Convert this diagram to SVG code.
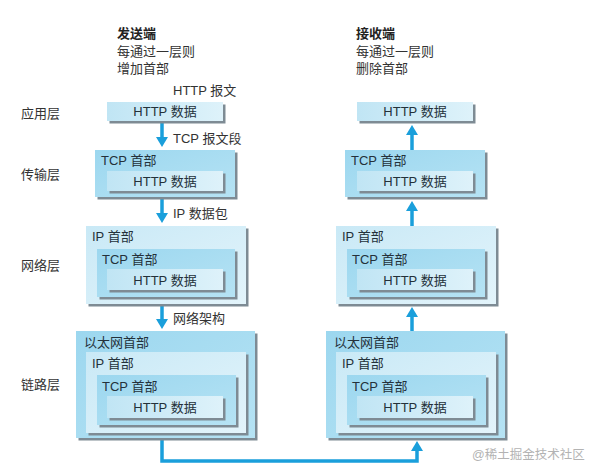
<svg xmlns="http://www.w3.org/2000/svg" width="597" height="475" viewBox="0 0 597 475">
<defs>
<linearGradient id="gMid" x1="0" y1="0" x2="1" y2="1"><stop offset="0" stop-color="#9cd7ef"/><stop offset="1" stop-color="#b6e3f4"/></linearGradient>
<linearGradient id="gLight" x1="0" y1="0" x2="1" y2="1"><stop offset="0" stop-color="#c9e9f6"/><stop offset="1" stop-color="#e3f4fb"/></linearGradient>
<linearGradient id="gHttp" x1="0" y1="0" x2="1" y2="0"><stop offset="0" stop-color="#c0e5f4"/><stop offset="1" stop-color="#def2fa"/></linearGradient>
<marker id="ah" markerUnits="userSpaceOnUse" markerWidth="12" markerHeight="12" refX="2" refY="6" orient="auto"><path d="M0,0 L10,6 L0,12 z" fill="#1a9fdb"/></marker>
</defs>
<style>
text{font-family:"Liberation Sans","Noto Sans CJK SC",sans-serif;font-size:13px;fill:#333}
.bx{fill:#24313a}
.mid .ho{font-weight:normal}
.sh{fill:#7e8b94}
.m{fill:url(#gMid)}
.l{fill:url(#gLight)}
.h{fill:url(#gHttp)}
.c{text-anchor:middle}
.hd{font-weight:bold;fill:#222}
.wm{fill:#b3b3b3;font-size:12.5px}
.con{stroke:#1a9fdb;stroke-width:3.5;fill:none}
</style>

<g id="header-left">
<text class="hd" x="117" y="38">发送端</text>
<text x="117" y="55.5">每通过一层则</text>
<text x="117" y="73">增加首部</text>
</g>
<g id="header-right">
<text class="hd" x="356" y="38">接收端</text>
<text x="356" y="55.5">每通过一层则</text>
<text x="356" y="73">删除首部</text>
</g>

<g id="layer-labels">
<text x="21" y="118">应用层</text>
<text x="21" y="179">传输层</text>
<text x="21" y="270">网络层</text>
<text x="21" y="389">链路层</text>
</g>

<g id="arrow-labels">
<text x="173" y="95">HTTP 报文</text>
<text x="173" y="143">TCP 报文段</text>
<text x="173" y="218">IP 数据包</text>
<text x="173" y="323">网络架构</text>
</g>

<g id="connectors">
<line class="con" x1="162" y1="122" x2="162" y2="139" marker-end="url(#ah)"/>
<line class="con" x1="162" y1="198" x2="162" y2="215" marker-end="url(#ah)"/>
<line class="con" x1="162" y1="305" x2="162" y2="321" marker-end="url(#ah)"/>
<line class="con" x1="412" y1="150" x2="412" y2="133" marker-end="url(#ah)"/>
<line class="con" x1="412" y1="226" x2="412" y2="209" marker-end="url(#ah)"/>
<line class="con" x1="412" y1="331" x2="412" y2="315" marker-end="url(#ah)"/>
<path class="con" d="M162,438 V461 H417 V449" marker-end="url(#ah)"/>
</g>

<g id="send-app">
<rect class="sh" x="109.5" y="104.5" width="116" height="19"/>
<rect class="h" x="107" y="102" width="116" height="19"/>
<text class="bx c" x="165" y="116">HTTP 数据</text>
</g>

<g id="send-tcp">
<rect class="sh" x="97.5" y="152.5" width="140" height="47"/>
<rect class="m" x="95" y="150" width="140" height="47"/>
<text class="bx" x="101" y="165">TCP 首部</text>
<rect class="sh" x="109.5" y="173.5" width="116" height="20"/>
<rect class="h" x="107" y="171" width="116" height="20"/>
<text class="bx c" x="165" y="186">HTTP 数据</text>
</g>

<g id="send-ip">
<rect class="sh" x="88.5" y="228.5" width="160" height="78"/>
<rect class="l" x="86" y="226" width="160" height="78"/>
<text class="bx" x="92" y="241">IP 首部</text>
<rect class="sh" x="99.5" y="251.5" width="138" height="48"/>
<rect class="m" x="97" y="249" width="138" height="48"/>
<text class="bx" x="102" y="264">TCP 首部</text>
<rect class="sh" x="109.5" y="271.5" width="116" height="21"/>
<rect class="h" x="107" y="269" width="116" height="21"/>
<text class="bx c" x="165" y="284.5">HTTP 数据</text>
</g>

<g id="send-eth">
<rect class="sh" x="78.5" y="333.5" width="179" height="107"/>
<rect class="m" x="76" y="331" width="179" height="107"/>
<text class="bx" x="84" y="347">以太网首部</text>
<rect class="sh" x="88.5" y="354.5" width="160" height="81"/>
<rect class="l" x="86" y="352" width="160" height="81"/>
<text class="bx" x="92" y="368">IP 首部</text>
<rect class="sh" x="99.5" y="377.5" width="139" height="50"/>
<rect class="m" x="97" y="375" width="139" height="50"/>
<text class="bx" x="102" y="391">TCP 首部</text>
<rect class="sh" x="109.5" y="398.5" width="116" height="22"/>
<rect class="h" x="107" y="396" width="116" height="22"/>
<text class="bx c" x="165" y="412">HTTP 数据</text>
</g>

<g id="recv-app">
<rect class="sh" x="359.5" y="104.5" width="116" height="19"/>
<rect class="h" x="357" y="102" width="116" height="19"/>
<text class="bx c" x="415" y="116">HTTP 数据</text>
</g>

<g id="recv-tcp">
<rect class="sh" x="347.5" y="152.5" width="140" height="47"/>
<rect class="m" x="345" y="150" width="140" height="47"/>
<text class="bx" x="351" y="165">TCP 首部</text>
<rect class="sh" x="359.5" y="173.5" width="116" height="20"/>
<rect class="h" x="357" y="171" width="116" height="20"/>
<text class="bx c" x="415" y="186">HTTP 数据</text>
</g>

<g id="recv-ip">
<rect class="sh" x="338.5" y="228.5" width="160" height="78"/>
<rect class="l" x="336" y="226" width="160" height="78"/>
<text class="bx" x="342" y="241">IP 首部</text>
<rect class="sh" x="349.5" y="251.5" width="138" height="48"/>
<rect class="m" x="347" y="249" width="138" height="48"/>
<text class="bx" x="352" y="264">TCP 首部</text>
<rect class="sh" x="359.5" y="271.5" width="116" height="21"/>
<rect class="h" x="357" y="269" width="116" height="21"/>
<text class="bx c" x="415" y="284.5">HTTP 数据</text>
</g>

<g id="recv-eth">
<rect class="sh" x="328.5" y="333.5" width="179" height="107"/>
<rect class="m" x="326" y="331" width="179" height="107"/>
<text class="bx" x="334" y="347">以太网首部</text>
<rect class="sh" x="338.5" y="354.5" width="160" height="81"/>
<rect class="l" x="336" y="352" width="160" height="81"/>
<text class="bx" x="342" y="368">IP 首部</text>
<rect class="sh" x="349.5" y="377.5" width="139" height="50"/>
<rect class="m" x="347" y="375" width="139" height="50"/>
<text class="bx" x="352" y="391">TCP 首部</text>
<rect class="sh" x="359.5" y="398.5" width="116" height="22"/>
<rect class="h" x="357" y="396" width="116" height="22"/>
<text class="bx c" x="415" y="412">HTTP 数据</text>
</g>

<text class="wm" x="472" y="459">@稀土掘金技术社区</text>
</svg>
